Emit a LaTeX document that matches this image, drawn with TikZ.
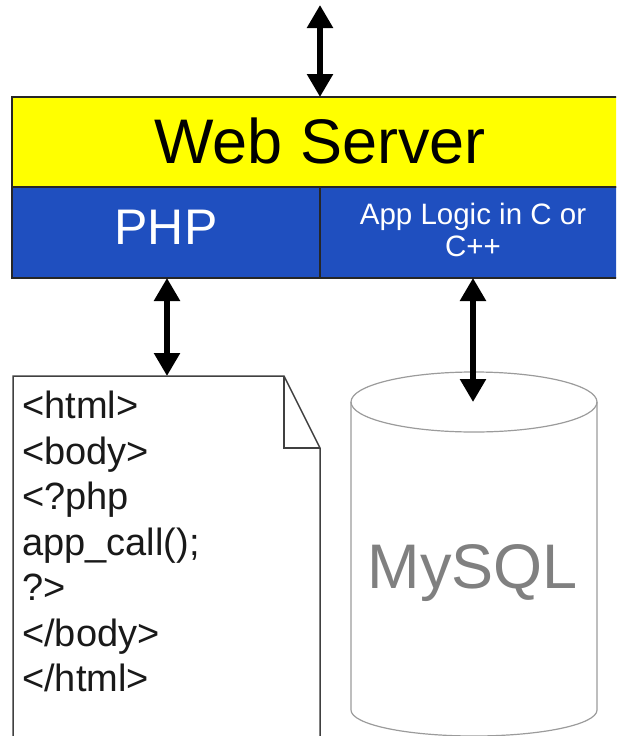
\documentclass[tikz,border=0pt]{standalone}
\usepackage{fontspec}
\setmainfont{Liberation Sans}
\usetikzlibrary{arrows.meta,calc}
\definecolor{wsyellow}{RGB}{255,255,0}
\definecolor{wsblue}{RGB}{31,79,191}
\definecolor{cylgray}{RGB}{155,155,155}
\definecolor{textgray}{RGB}{128,128,128}
\definecolor{codeblack}{RGB}{25,25,25}
\begin{document}
\begin{tikzpicture}[x=1pt,y=-1pt,
  layer/.style={draw=black!85,line width=2pt,inner sep=0pt,outer sep=0pt},
  biarrow/.style={{Triangle[width=25pt,length=23pt]}-{Triangle[width=25pt,length=23pt]},line width=5.5pt},
  paper/.style={draw=black!75,line width=1.5pt},
  cyl/.style={draw=cylgray,line width=1.2pt}]
\useasboundingbox (0,0) rectangle (616,736);
\clip (0,0) rectangle (616,736);
% web server stack
\node[layer,fill=wsyellow,minimum width=608pt,minimum height=90pt] (ws) at (316,142) {};
\node[font=\fontsize{63}{70}\selectfont,anchor=base] (wstext) at (320,163) {Web Server};
\node[layer,fill=wsblue,minimum width=308pt,minimum height=91pt] (php) at (166,232.5) {};
\node[layer,fill=wsblue,minimum width=300pt,minimum height=91pt] (app) at (470,232.5) {};
\node[white,font=\fontsize{50}{60}\selectfont,anchor=base] (phptext) at (166,244) {PHP};
\node[white,font=\fontsize{29.5}{32}\selectfont,align=center,anchor=north,inner sep=0pt] (apptext) at (473,203) {App Logic in C or\\C++};
% document
\node[minimum width=307pt,minimum height=364pt,inner sep=0pt,outer sep=0pt] (doc) at (166.5,558) {};
\draw[paper,fill=white] (doc.north west) -- ($(doc.north east)+(-36,0)$) -- ($(doc.north east)+(0,72)$) -- (doc.south east) -- (doc.south west) -- cycle;
\draw[paper] ($(doc.north east)+(-36,0)$) -- ($(doc.north east)+(-36,72)$) -- ($(doc.north east)+(0,72)$);
\node[codeblack,font=\fontsize{38}{45.5}\selectfont,align=left,anchor=north west,inner sep=0pt] (code) at (22,391) {<html>\\<body>\\<?php\\app\_call();\\?>\\</body>\\</html>};
% database
\node[minimum width=246pt,minimum height=366pt,inner sep=0pt] (db) at (474,555) {};
\draw[cyl] (474,402) ellipse [x radius=123pt,y radius=30pt];
\draw[cyl] (351,402) -- (351,710) arc[start angle=180,end angle=360,x radius=123pt,y radius=26pt] -- (597,402);
\node[textgray,font=\fontsize{63}{70}\selectfont,anchor=base] (dbtext) at (473,588) {MySQL};
% arrows
\coordinate (top) at (320,5);
\coordinate (dbtop) at (473,402);
\draw[biarrow] (top) -- (top |- ws.north);
\draw[biarrow] ([xshift=1pt]php.south) -- ([xshift=1pt]php.south |- doc.north);
\draw[biarrow] (dbtop |- app.south) -- (dbtop);
\end{tikzpicture}
\end{document}
